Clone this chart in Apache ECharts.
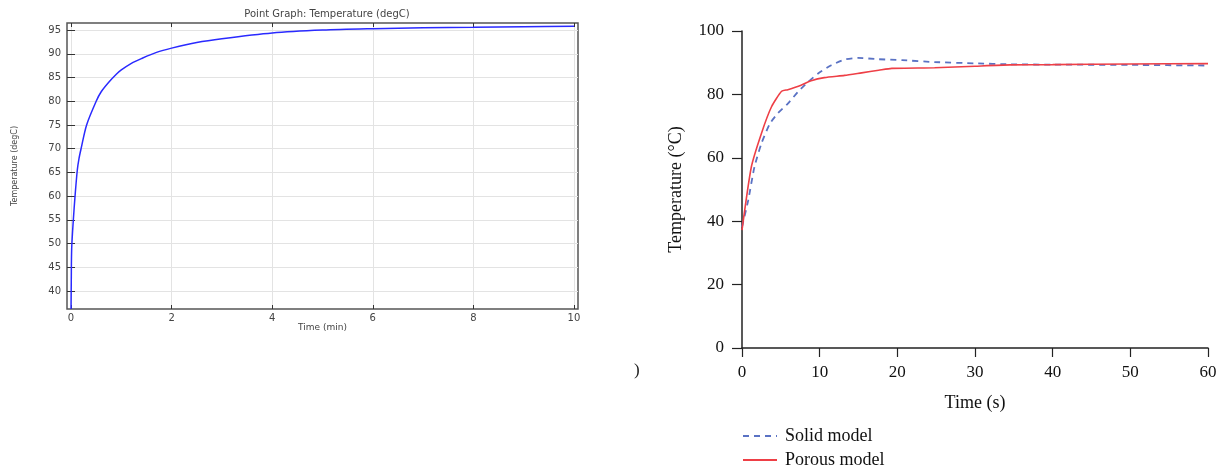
<!DOCTYPE html>
<html>
<head>
<meta charset="utf-8">
<script src="https://cdn.jsdelivr.net/npm/echarts@6/dist/echarts.min.js"></script>
<style>
html,body{margin:0;padding:0;background:#fff;}
#c{width:1225px;height:469px;}
</style>
</head>
<body>
<div id="c"></div>
<script>
// Left chart: Point Graph Temperature (degC) vs Time (min)
const leftTime = [0, 0.005, 0.013, 0.046, 0.08, 0.125, 0.16, 0.2, 0.31, 0.5, 0.6, 0.75, 0.9, 1.0, 1.2, 1.4, 1.7, 2.0, 2.5, 3, 4, 5, 6, 7, 8, 9, 10];
const leftTemp = [36.2, 42, 48.9, 55, 60, 65.5, 68, 70, 75, 80, 82, 84, 85.7, 86.6, 88, 89, 90.3, 91.2, 92.4, 93.2, 94.4, 95, 95.3, 95.5, 95.6, 95.7, 95.8];
const leftXTicks = [0, 2, 4, 6, 8, 10];
const leftYTicks = [40, 45, 50, 55, 60, 65, 70, 75, 80, 85, 90, 95];

// Right chart: Solid vs Porous model, Temperature (°C) vs Time (s)
const solidTime = [0, 0.8, 1.6, 2.5, 3.6, 4.6, 5.9, 7.2, 8.5, 9.8, 11.5, 13.2, 14.9, 17.6, 20.6, 24.8, 30, 34.5, 40, 50, 60];
const solidTemp = [38.2, 46.6, 57.1, 64.5, 70.8, 74.0, 77.1, 80.8, 83.9, 86.6, 89.2, 91.0, 91.5, 91.1, 90.8, 90.2, 89.8, 89.5, 89.4, 89.3, 89.1];
const porousTime = [0, 1.2, 2.5, 3.8, 5.1, 5.9, 7.6, 8.9, 10.6, 13.2, 15.4, 17.6, 19.3, 24.8, 30, 34.5, 40, 50, 60];
const porousTemp = [37.2, 57.1, 67.7, 76.1, 81.0, 81.5, 82.9, 84.3, 85.3, 86.0, 86.8, 87.6, 88.2, 88.4, 88.9, 89.3, 89.4, 89.6, 89.7];

const zip = (a, b) => a.map((v, i) => [v, b[i]]);

const chart = echarts.init(document.getElementById('c'));
const sansFont = 'DejaVu Sans';
const serifFont = 'Liberation Serif';

const legendBase = {
  orient: 'horizontal',
  left: 737,
  itemWidth: 34, itemHeight: 14, itemGap: 8,
  itemStyle: { opacity: 0 },
  textStyle: { fontFamily: serifFont, fontSize: 18, color: '#111', padding: [0, 0, 0, 3] }
};

chart.setOption({
  animation: false,
  title: {
    text: 'Point Graph: Temperature (degC)',
    left: 322, top: 4,
    textAlign: 'center',
    textStyle: { fontFamily: sansFont, fontSize: 10, fontWeight: 'normal', color: '#444' }
  },
  legend: [
    Object.assign({}, legendBase, { top: 422, data: ['Solid model'] }),
    Object.assign({}, legendBase, { top: 446, data: ['Porous model'] })
  ],
  graphic: [{
    type: 'text', left: 634, top: 362,
    style: { text: ')', font: '17px "Liberation Serif"', fill: '#222' }
  }],
  grid: [
    { left: 67, top: 23, width: 511, height: 286, show: true, borderColor: '#555', borderWidth: 1.5, backgroundColor: '#fff' },
    { left: 742, top: 31, right: 17, height: 317, containLabel: false }
  ],
  xAxis: [
    {
      gridIndex: 0, type: 'value', min: -0.08, max: 10.08,
      name: 'Time (min)', nameLocation: 'middle', nameGap: 14, nameMoveOverlap: false,
      nameTextStyle: { fontFamily: sansFont, fontSize: 9, color: '#444' },
      axisLine: { show: false },
      axisTick: { show: true, inside: true, length: 4, lineStyle: { color: '#333' }, customValues: leftXTicks },
      axisLabel: { fontFamily: sansFont, fontSize: 10, color: '#444', margin: 4, customValues: leftXTicks },
      splitLine: { show: true, lineStyle: { color: '#e3e3e3', width: 1 } }
    },
    {
      gridIndex: 0, type: 'value', min: -0.08, max: 10.08, position: 'top',
      axisLine: { show: false },
      axisTick: { show: true, inside: true, length: 4, lineStyle: { color: '#333' }, customValues: leftXTicks },
      axisLabel: { show: false },
      splitLine: { show: false }
    },
    {
      gridIndex: 1, type: 'value', min: 0, max: 60, interval: 10,
      name: 'Time (s)', nameLocation: 'middle', nameGap: 46,
      nameTextStyle: { fontFamily: serifFont, fontSize: 18, color: '#111' },
      axisLine: { show: true, onZero: false, lineStyle: { color: '#222', width: 1.5 } },
      axisTick: { show: true, length: 9, lineStyle: { color: '#222', width: 1.2 } },
      axisLabel: { fontFamily: serifFont, fontSize: 17, color: '#111', margin: 16 },
      splitLine: { show: false }
    }
  ],
  yAxis: [
    {
      gridIndex: 0, type: 'value', min: 36.2, max: 96.5,
      name: 'Temperature (degC)', nameLocation: 'middle', nameGap: 48,
      nameTextStyle: { fontFamily: sansFont, fontSize: 8, color: '#444' },
      axisLine: { show: false },
      axisTick: { show: true, inside: true, length: 4, lineStyle: { color: '#333' }, customValues: leftYTicks },
      axisLabel: { fontFamily: sansFont, fontSize: 10, color: '#444', margin: 6, customValues: leftYTicks },
      splitLine: { show: true, lineStyle: { color: '#e3e3e3', width: 1 } }
    },
    {
      gridIndex: 0, type: 'value', min: 36.2, max: 96.5, position: 'right',
      axisLine: { show: false },
      axisTick: { show: true, inside: true, length: 4, lineStyle: { color: '#333' }, customValues: leftYTicks },
      axisLabel: { show: false },
      splitLine: { show: false }
    },
    {
      gridIndex: 1, type: 'value', min: 0, max: 100, interval: 20,
      name: 'Temperature (°C)', nameLocation: 'middle', nameGap: 57,
      nameTextStyle: { fontFamily: serifFont, fontSize: 18, color: '#111' },
      axisLine: { show: true, onZero: false, lineStyle: { color: '#222', width: 1.5 } },
      axisTick: { show: true, length: 10, lineStyle: { color: '#222', width: 1.2 } },
      axisLabel: { fontFamily: serifFont, fontSize: 17, color: '#111', margin: 18 },
      splitLine: { show: false }
    }
  ],
  series: [
    {
      name: 'Point Graph', type: 'line', xAxisIndex: 0, yAxisIndex: 0,
      data: zip(leftTime, leftTemp), symbol: 'none', smooth: 0.3, clip: true,
      lineStyle: { color: '#2a2aff', width: 1.5 }
    },
    {
      name: 'Solid model', type: 'line', xAxisIndex: 2, yAxisIndex: 2,
      data: zip(solidTime, solidTemp), symbol: 'none', smooth: 0.2,
      itemStyle: { color: '#5a72c4' },
      lineStyle: { color: '#5a72c4', width: 1.8, type: [6, 5] }
    },
    {
      name: 'Porous model', type: 'line', xAxisIndex: 2, yAxisIndex: 2,
      data: zip(porousTime, porousTemp), symbol: 'none', smooth: 0.2,
      itemStyle: { color: '#ee3f46' },
      lineStyle: { color: '#ee3f46', width: 1.6 }
    }
  ]
});
</script>
</body>
</html>
